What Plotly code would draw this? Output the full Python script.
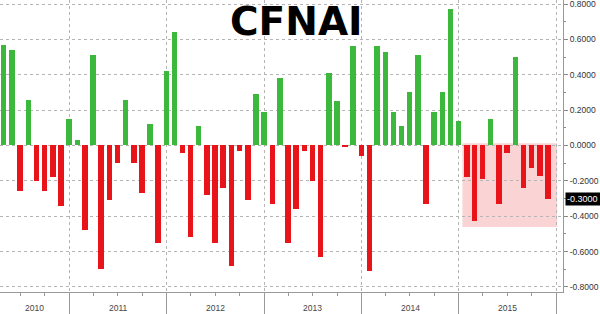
import pandas as pd
import plotly.graph_objects as go

# Monthly CFNAI values, Apr 2010 .. Nov 2015
months = pd.date_range("2010-04-30", periods=68, freq="ME")
cfnai = [
    0.57, 0.54, -0.26, 0.26, -0.20, -0.26, -0.18, -0.34, 0.15,                 # 2010 Apr-Dec
    0.03, -0.48, 0.51, -0.70, -0.31, -0.10, 0.26, -0.10, -0.27, 0.12, -0.55, 0.42,  # 2011
    0.64, -0.04, -0.52, 0.11, -0.28, -0.55, -0.24, -0.68, -0.03, -0.31, 0.29, 0.19,  # 2012
    -0.33, 0.38, -0.55, -0.36, -0.03, -0.20, -0.63, 0.41, 0.25, -0.01, 0.56, -0.06,  # 2013
    -0.71, 0.56, 0.53, 0.19, 0.11, 0.30, 0.51, -0.33, 0.19, 0.30, 0.77, 0.14,      # 2014
    -0.18, -0.43, -0.19, 0.15, -0.33, -0.04, 0.50, -0.24, -0.13, -0.17, -0.30,     # 2015 Jan-Nov
]
last_value = -0.30

year_labels = ["2010", "2011", "2012", "2013", "2014", "2015"]
year_bounds = ["2011-01-01", "2012-01-01", "2013-01-01", "2014-01-01", "2015-01-01", "2016-01-01"]
y_tick_vals = [0.8, 0.6, 0.4, 0.2, 0.0, -0.2, -0.4, -0.6, -0.8]
y_tick_text = ["0.8000", "0.6000", "0.4000", "0.2000", "0.0000", "-0.2000", "-0.4000", "-0.6000", "-0.8000"]

highlight_start = "2015-01-14"
highlight_end = "2016-01-04"
highlight_top = 0.013
highlight_bottom = -0.461

x_range = ["2010-04-16", "2016-01-26"]
y_range = [-0.829, 0.823]

GREEN = "#3cb83c"
RED = "#e8141a"
colors = [GREEN if v >= 0 else RED for v in cfnai]

fig = go.Figure()
fig.add_trace(go.Bar(
    x=months, y=cfnai, marker=dict(color=colors, line=dict(width=0)),
    width=20.5 * 86400000, showlegend=False,
))

fig.add_shape(type="rect", xref="x", yref="y",
              x0=highlight_start, x1=highlight_end, y0=highlight_bottom, y1=highlight_top,
              fillcolor="rgba(245,160,160,0.45)", line=dict(width=0), layer="below")

# Year labels centred in the visible part of each year
starts = [pd.Timestamp(x_range[0])] + [pd.Timestamp(b) for b in year_bounds[:-1]]
ends = [pd.Timestamp(b) for b in year_bounds]
for lab, s, e in zip(year_labels, starts, ends):
    mid = s + (e - s) / 2
    fig.add_annotation(x=mid, y=0, xref="x", yref="paper", yanchor="top", yshift=-9,
                       text=lab, showarrow=False,
                       font=dict(family="Liberation Sans, Arial", size=8.5, color="#444"))

fig.add_annotation(x=0.527, y=0.925, xref="paper", yref="paper", text="CFNAI",
                   showarrow=False, xanchor="center", yanchor="middle",
                   font=dict(family="DejaVu Sans", size=39, color="black", weight="bold"))

fig.add_annotation(x=1, y=last_value, xref="paper", yref="y", xanchor="left", yanchor="middle",
                   xshift=2, text="-0.3000 ", showarrow=False, bgcolor="black",
                   borderpad=1,
                   font=dict(family="Liberation Sans, Arial", size=9, color="white"))

fig.update_layout(
    width=600, height=314,
    margin=dict(l=0, r=37, t=0, b=22, pad=0),
    paper_bgcolor="white", plot_bgcolor="white",
    bargap=0,
    xaxis=dict(
        type="date", range=x_range,
        tickvals=year_bounds, ticktext=[""] * len(year_bounds),
        ticks="outside", ticklen=22, tickcolor="#999", tickwidth=1,
        showgrid=True, gridcolor="#b5b5b5", griddash="dot", gridwidth=1,
        showline=True, linecolor="#999", linewidth=1,
        minor=dict(dtick="M3", tick0="2010-01-01", ticks="outside", ticklen=3,
                   tickcolor="#999", showgrid=False),
        zeroline=False,
    ),
    yaxis=dict(
        side="right", range=y_range,
        tickvals=y_tick_vals, ticktext=y_tick_text,
        ticks="outside", ticklen=4, tickcolor="#888",
        ticklabeloverflow="allow",
        showgrid=True, gridcolor="#b5b5b5", griddash="dot", gridwidth=1,
        showline=True, linecolor="#999", linewidth=1,
        zeroline=False,
        tickfont=dict(family="Liberation Sans, Arial", size=8.5, color="#333"),
        minor=dict(dtick=0.1, ticks="outside", ticklen=2, tickcolor="#888", showgrid=False),
    ),
)

fig.write_html("out.html")
